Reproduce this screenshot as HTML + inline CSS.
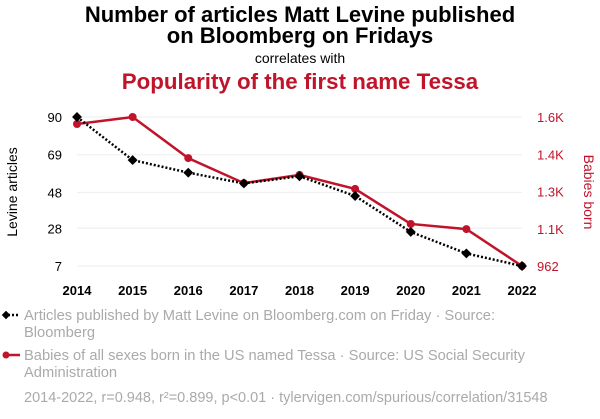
<!DOCTYPE html>
<html><head><meta charset="utf-8"><style>
body{margin:0;background:#fff;font-family:"Liberation Sans",sans-serif;}
svg text{font-family:"Liberation Sans",sans-serif;}
</style></head><body>
<svg width="600" height="414" id="chart">
<text x="300" y="22" text-anchor="middle" font-size="22" font-weight="bold" fill="#000">Number of articles Matt Levine published</text>
<text x="300" y="43" text-anchor="middle" font-size="22" font-weight="bold" fill="#000">on Bloomberg on Fridays</text>
<text x="300" y="63" text-anchor="middle" font-size="14" fill="#000">correlates with</text>
<text x="300" y="89" text-anchor="middle" font-size="22.3" font-weight="bold" fill="#c0142b">Popularity of the first name Tessa</text>
<text transform="translate(17,192) rotate(-90)" text-anchor="middle" font-size="14" fill="#000">Levine articles</text>
<text transform="translate(584,192) rotate(90)" text-anchor="middle" font-size="14" fill="#c0142b">Babies born</text>
<g id="grid"></g><g id="axes"></g><g id="marks"></g>
<g>
<line x1="4" y1="315" x2="20" y2="315" stroke="#000" stroke-width="2.5" stroke-dasharray="2,2"/>
<rect x="3" y="312" width="6" height="6" transform="rotate(45 6 315)" fill="#000"/>
<text x="24" y="320" font-size="14.7" fill="#aaa">Articles published by Matt Levine on Bloomberg.com on Friday · Source:</text>
<text x="24" y="337" font-size="14.7" fill="#aaa">Bloomberg</text></g>
<g>
<line x1="4" y1="355" x2="20" y2="355" stroke="#c0142b" stroke-width="2.5"/>
<circle cx="6" cy="355" r="3.5" fill="#c0142b"/>
<text x="24" y="360" font-size="14.7" fill="#aaa">Babies of all sexes born in the US named Tessa · Source: US Social Security</text>
<text x="24" y="377" font-size="14.7" fill="#aaa">Administration</text></g>
<text x="24" y="402" font-size="14.5" fill="#aaa">2014-2022, r=0.948, r²=0.899, p&lt;0.01 · tylervigen.com/spurious/correlation/31548</text>
</svg>
<script>
const years=[2014,2015,2016,2017,2018,2019,2020,2021,2022];
const articles=[90,66,59,53,57,46,26,14,7];
const babies=[1570,1600,1424,1317,1352,1292,1142,1120,962];
const leftTicks=[7,28,48,69,90];
const rightTicks=[962,1121,1281,1440,1600];
const rightLabels=["962","1.1K","1.3K","1.4K","1.6K"];
const NS="http://www.w3.org/2000/svg";
const x=y=>77+(y-2014)*(522-77)/8;
const yl=v=>266-(v-7)*(266-117)/(90-7);
const yr=v=>266-(v-962)*(266-117)/(1600-962);
function mk(p,t,a){const e=document.createElementNS(NS,t);for(const k in a)e.setAttribute(k,a[k]);p.appendChild(e);return e;}
const grid=document.getElementById('grid'),axes=document.getElementById('axes'),marks=document.getElementById('marks');
leftTicks.forEach((v,i)=>{
 const g=mk(grid,'line',{x1:77,x2:522,y1:yl(v),y2:yl(v),stroke:'#eee'});
 
 
 const t=mk(axes,'text',{x:62,y:yl(v)+5,'text-anchor':'end','font-size':13,fill:'#000'});t.textContent=v;
 
 
});
rightTicks.forEach((v,i)=>{
 const t=mk(axes,'text',{x:537,y:yr(v)+5,'font-size':13,fill:'#c0142b'});t.textContent=rightLabels[i];
 
 
});
years.forEach(y=>{
 const t=mk(axes,'text',{x:x(y),y:295,'text-anchor':'middle','font-size':13,'font-weight':'bold',fill:'#000'});t.textContent=y;
 
 
});
const rl=mk(marks,'polyline',{points:years.map((y,i)=>x(y)+','+yr(babies[i])).join(' '),fill:'none',stroke:'#c0142b','stroke-width':2.5});


const bl=mk(marks,'polyline',{points:years.map((y,i)=>x(y)+','+yl(articles[i])).join(' '),fill:'none',stroke:'#000','stroke-width':2.5,'stroke-dasharray':'2,2'});


years.forEach((y,i)=>{
 const c=mk(marks,'circle',{cx:x(y),cy:yr(babies[i]),r:4,fill:'#c0142b'});
 
 
 const cx=x(y),cy=yl(articles[i]);
 const d=mk(marks,'rect',{x:cx-3.5,y:cy-3.5,width:7,height:7,fill:'#000',transform:`rotate(45 ${cx} ${cy})`});
 
 
});
</script>
</body></html>
